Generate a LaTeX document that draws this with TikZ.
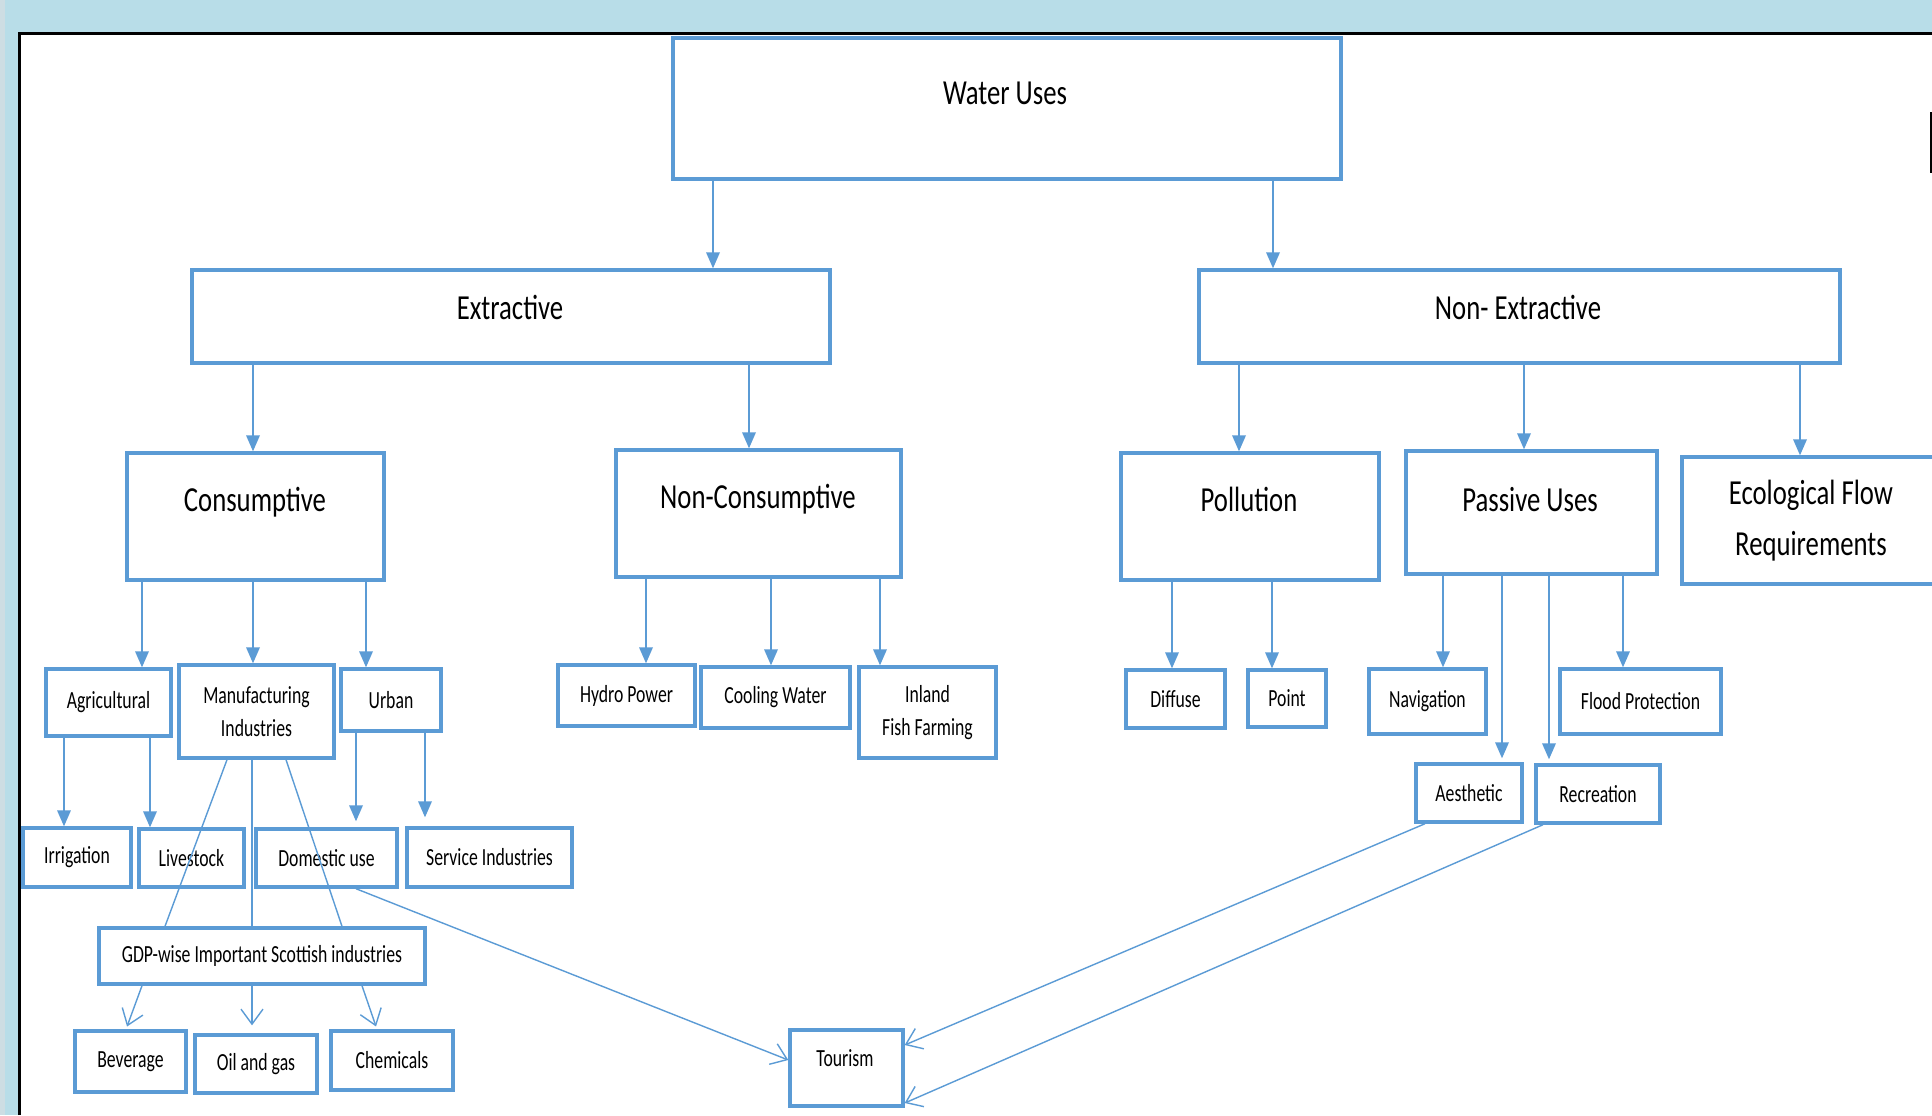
\documentclass[tikz,border=0pt]{standalone}
\usepackage{fontspec}
\setmainfont{Carlito}[FakeStretch=0.76]
\newfontfamily\smallfamily{Carlito}[FakeStretch=0.72]
\usetikzlibrary{arrows.meta}

\definecolor{boxblue}{HTML}{5B9BD5}
\definecolor{lineblue}{HTML}{5B9BD5}
\definecolor{bandblue}{HTML}{B8DDE8}
\definecolor{edgegray}{HTML}{CDDDE3}

\tikzset{
		wbox/.style={draw=boxblue,line width=0.34mm,fill=white,inner sep=1pt},
		bigtxt/.style={font=\fontsize{10}{14.5}\selectfont,inner sep=0pt,text height=2.3mm,text depth=0pt},
		smalltxt/.style={font=\smallfamily\fontsize{7}{9.4}\selectfont,align=center},
		arr/.style={draw=lineblue,line width=0.18mm,-{Triangle[length=1.6mm,width=1.35mm]}},
		openarr/.style={draw=lineblue,line width=0.14mm,-{Straight Barb[length=1.5mm,width=2.2mm]}},
		thinline/.style={draw=lineblue,line width=0.14mm}
	}

\begin{document}
\begin{tikzpicture}[x=0.1mm,y=-0.1mm]
	\clip (0,0) rectangle (1932,1115);
	% page frame
	\fill[bandblue] (0,0) rectangle (1932,1115);
	\fill[edgegray] (0,0) rectangle (5,1115);
	\fill[white] (19,33) rectangle (1932,1115);
	\draw[black,line width=0.3mm] (19,1115) -- (19,33) -- (1932,33);
	\draw[black,line width=0.25mm] (1931,112) -- (1931,173);

	% top levels
	\node[wbox,minimum width=66.8mm,minimum height=14.1mm] (wateruse) at (1007,108.5) {};
	\node[bigtxt] (wateruse-lbl) at (1005,93) {Water Uses};
	\node[wbox,minimum width=63.8mm,minimum height=9.3mm] (extractive) at (511,316.5) {};
	\node[bigtxt] (extractive-lbl) at (510,308) {Extractive};
	\node[wbox,minimum width=64.1mm,minimum height=9.3mm] (nonextractive) at (1519.5,316.5) {};
	\node[bigtxt] (nonextractive-lbl) at (1518,308) {Non- Extractive};

	% third level
	\node[wbox,minimum width=25.7mm,minimum height=12.7mm] (consumptive) at (255.5,516.5) {};
	\node[bigtxt] (consumptive-lbl) at (255,500) {Consumptive};
	\node[wbox,minimum width=28.5mm,minimum height=12.7mm] (nonconsumptive) at (758.5,513.5) {};
	\node[bigtxt] (nonconsumptive-lbl) at (758,497) {Non-Consumptive};
	\node[wbox,minimum width=25.8mm,minimum height=12.7mm] (pollution) at (1250,516.5) {};
	\node[bigtxt] (pollution-lbl) at (1249,500) {Pollution};
	\node[wbox,minimum width=25.1mm,minimum height=12.3mm] (passive) at (1531.5,512.5) {};
	\node[bigtxt] (passive-lbl) at (1530,500) {Passive Uses};
	\node[wbox,minimum width=25.8mm,minimum height=12.7mm,align=center,
		font=\fontsize{10}{14.5}\selectfont] (ecoflow) at (1811,520.5) {Ecological Flow\\Requirements};

	% uses
	\node[wbox,smalltxt,minimum width=12.5mm,minimum height=6.7mm] (agricultural) at (108.5,702.5) {Agricultural};
	\node[wbox,smalltxt,minimum width=15.5mm,minimum height=9.3mm] (manufacturing) at (256.5,711.5) {Manufacturing\\Industries};
	\node[wbox,smalltxt,minimum width=10mm,minimum height=6.2mm] (urban) at (391,700) {Urban};
	\node[wbox,smalltxt,minimum width=13.7mm,minimum height=6.1mm] (hydro) at (626.5,695.5) {Hydro Power};
	\node[wbox,smalltxt,minimum width=14.9mm,minimum height=6.1mm] (cooling) at (775.5,697.5) {Cooling Water};
	\node[wbox,smalltxt,minimum width=13.7mm,minimum height=9.1mm] (fishfarm) at (927.5,712.5) {Inland\\Fish Farming};
	\node[wbox,smalltxt,minimum width=9.9mm,minimum height=5.8mm] (diffuse) at (1175.5,699) {Diffuse};
	\node[wbox,smalltxt,minimum width=7.8mm,minimum height=5.7mm] (point) at (1287,698.5) {Point};
	\node[wbox,smalltxt,minimum width=11.7mm,minimum height=6.5mm] (navigation) at (1427.5,701.5) {Navigation};
	\node[wbox,smalltxt,minimum width=16.1mm,minimum height=6.5mm] (flood) at (1640.5,701.5) {Flood Protection};
	\node[wbox,smalltxt,minimum width=10.6mm,minimum height=5.8mm] (aesthetic) at (1469,793) {Aesthetic};
	\node[wbox,smalltxt,minimum width=12.4mm,minimum height=5.8mm] (recreation) at (1598,794) {Recreation};

	% sub uses
	\node[wbox,smalltxt,minimum width=10.8mm,minimum height=5.9mm] (irrigation) at (77,857.5) {Irrigation};
	\node[wbox,smalltxt,minimum width=10.5mm,minimum height=5.8mm] (livestock) at (191.5,858) {Livestock};
	\node[wbox,smalltxt,minimum width=14.1mm,minimum height=5.8mm] (domestic) at (326.5,858) {Domestic use};
	\node[wbox,smalltxt,minimum width=16.5mm,minimum height=5.9mm] (service) at (489.5,857.5) {Service Industries};
	\node[wbox,smalltxt,minimum width=32.6mm,minimum height=5.6mm] (gdp) at (262,956) {GDP-wise Important Scottish industries};
	\node[wbox,smalltxt,minimum width=11.1mm,minimum height=6.1mm] (beverage) at (130.5,1061.5) {Beverage};
	\node[wbox,smalltxt,minimum width=12.2mm,minimum height=5.8mm] (oilgas) at (256,1064) {Oil and gas};
	\node[wbox,smalltxt,minimum width=12.2mm,minimum height=5.9mm] (chemicals) at (392,1060.5) {Chemicals};
	\node[wbox,minimum width=11.3mm,minimum height=7.6mm] (tourism) at (846.5,1068) {};
	\node[smalltxt] (tourism-lbl) at (845,1058) {Tourism};

	% connectors
	\draw[arr] (wateruse.south -| 713,0) -- (extractive.north -| 713,0);
	\draw[arr] (wateruse.south -| 1273,0) -- (nonextractive.north -| 1273,0);
	\draw[arr] (extractive.south -| 253,0) -- (consumptive.north -| 253,0);
	\draw[arr] (extractive.south -| 749,0) -- (nonconsumptive.north -| 749,0);
	\draw[arr] (nonextractive.south -| 1239,0) -- (pollution.north -| 1239,0);
	\draw[arr] (nonextractive.south -| 1524,0) -- (passive.north -| 1524,0);
	\draw[arr] (nonextractive.south -| 1800,0) -- (ecoflow.north -| 1800,0);

	\draw[arr] (consumptive.south -| 142,0) -- (agricultural.north -| 142,0);
	\draw[arr] (consumptive.south -| 253,0) -- (manufacturing.north -| 253,0);
	\draw[arr] (consumptive.south -| 366,0) -- (urban.north -| 366,0);
	\draw[arr] (nonconsumptive.south -| 646,0) -- (hydro.north -| 646,0);
	\draw[arr] (nonconsumptive.south -| 771,0) -- (cooling.north -| 771,0);
	\draw[arr] (nonconsumptive.south -| 880,0) -- (fishfarm.north -| 880,0);
	\draw[arr] (pollution.south -| 1172,0) -- (diffuse.north -| 1172,0);
	\draw[arr] (pollution.south -| 1272,0) -- (point.north -| 1272,0);
	\draw[arr] (passive.south -| 1443,0) -- (navigation.north -| 1443,0);
	\draw[arr,shorten >=0.4mm] (passive.south -| 1502,0) -- (aesthetic.north -| 1502,0);
	\draw[arr,shorten >=0.4mm] (passive.south -| 1549,0) -- (recreation.north -| 1549,0);
	\draw[arr] (passive.south -| 1623,0) -- (flood.north -| 1623,0);

	\draw[arr] (agricultural.south -| 64,0) -- (irrigation.north -| 64,0);
	\draw[arr] (agricultural.south -| 150,0) -- (livestock.north -| 150,0);
	\draw[arr,shorten >=0.6mm] (urban.south -| 356,0) -- (domestic.north -| 356,0);
	\draw[arr,shorten >=0.9mm] (urban.south -| 425,0) -- (service.north -| 425,0);

	% manufacturing to gdp
	\draw[thinline] (manufacturing.south -| 227,0) -- (gdp.north -| 165,0);
	\draw[thinline] (manufacturing.south -| 252,0) -- (gdp.north -| 252,0);
	\draw[thinline] (manufacturing.south -| 286,0) -- (gdp.north -| 342,0);
	\draw[openarr,shorten >=0.3mm] (gdp.south -| 142,0) -- (beverage.north -| 126,0);
	\draw[openarr,shorten >=0.8mm] (gdp.south -| 252,0) -- (oilgas.north -| 252,0);
	\draw[openarr,shorten >=0.3mm] (gdp.south -| 362,0) -- (chemicals.north -| 377,0);

	% tourism
	\draw[openarr] (domestic.south -| 356,0) -- (tourism.west |- 0,1060);
	\draw[openarr] (aesthetic.south -| 1425,0) -- (tourism.east |- 0,1045);
	\draw[openarr] (recreation.south -| 1543,0) -- (tourism.east |- 0,1103);
\end{tikzpicture}
\end{document}
